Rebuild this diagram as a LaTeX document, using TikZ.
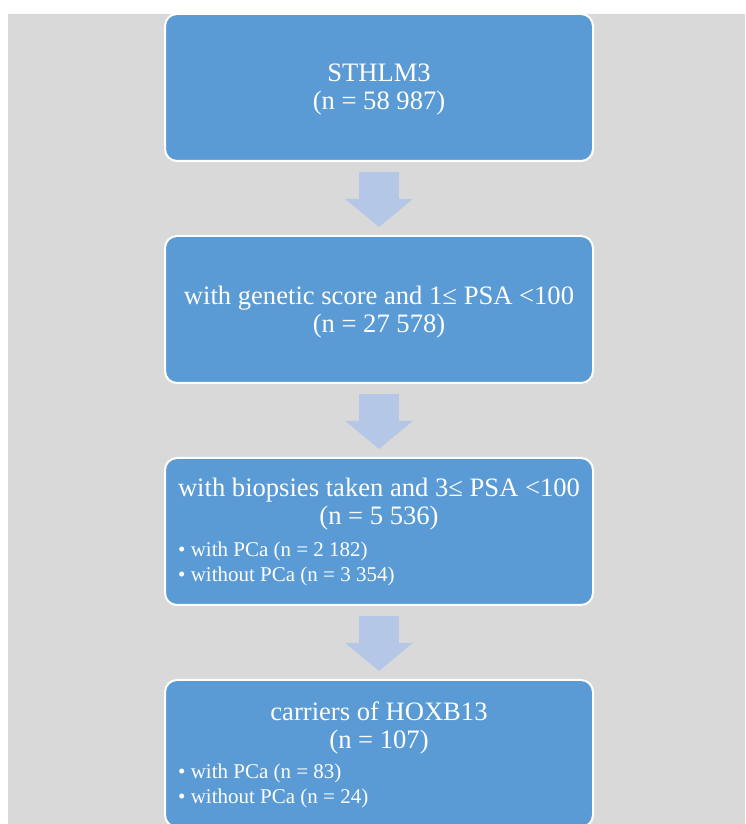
\documentclass[tikz,border=0pt]{standalone}
\usepackage{fontspec}
\setmainfont{Liberation Serif}
\usepackage{xcolor}
\usepackage{tikz}
\usetikzlibrary{positioning,arrows.meta}

\definecolor{boxblue}{HTML}{5B9BD5}
\definecolor{arrowblue}{HTML}{B4C7E7}
\definecolor{bggray}{HTML}{D9D9D9}

\begin{document}
\begin{tikzpicture}[
    x=1pt, y=1pt,
    node distance=75pt,
    box/.style={draw=white, line width=2pt, fill=boxblue, rounded corners=12pt, minimum width=428pt, minimum height=147pt, outer sep=0pt},
    title/.style={text=white, font=\fontsize{26.6}{28}\selectfont, align=center, inner sep=0pt},
    items/.style={text=white, font=\fontsize{21}{25}\selectfont, align=left, inner sep=0pt, anchor=west},
    flow/.style={-{Triangle[width=66pt, length=28pt]}, line width=40pt, draw=arrowblue}
]
\clip (0,0) rectangle (745,824);
\fill[white] (0,0) rectangle (745,824);
\fill[bggray] (8,0) rectangle (745,810);

\node[box] (sthlm) at (379,736.5) {};
\node[box, below=of sthlm] (genetic) {};
\node[box, below=of genetic] (biopsy) {};
\node[box, below=of biopsy] (hoxb) {};

\draw[flow] ([yshift=-11pt]sthlm.south) -- ([yshift=9pt]genetic.north);
\draw[flow] ([yshift=-11pt]genetic.south) -- ([yshift=9pt]biopsy.north);
\draw[flow] ([yshift=-11pt]biopsy.south) -- ([yshift=9pt]hoxb.north);

\node[title] (sthlmtext) at ([yshift=-2.5pt]sthlm.center) {STHLM3\\(n = 58 987)};
\node[title] (genetictext) at ([yshift=-2.5pt]genetic.center) {with genetic score and 1≤ PSA <100\\(n = 27 578)};
\node[title] (biopsytext) at ([yshift=-46.5pt]biopsy.north) {with biopsies taken and 3≤ PSA <100\\(n = 5 536)};
\node[items] (biopsyitems) at ([xshift=13pt, yshift=-106pt]biopsy.north west) {• with PCa (n = 2 182)\\• without PCa (n = 3 354)};
\node[title] (hoxbtext) at ([yshift=-47.5pt]hoxb.north) {carriers of HOXB13\\(n = 107)};
\node[items] (hoxbitems) at ([xshift=13pt, yshift=-105.5pt]hoxb.north west) {• with PCa (n = 83)\\• without PCa (n = 24)};
\end{tikzpicture}
\end{document}
